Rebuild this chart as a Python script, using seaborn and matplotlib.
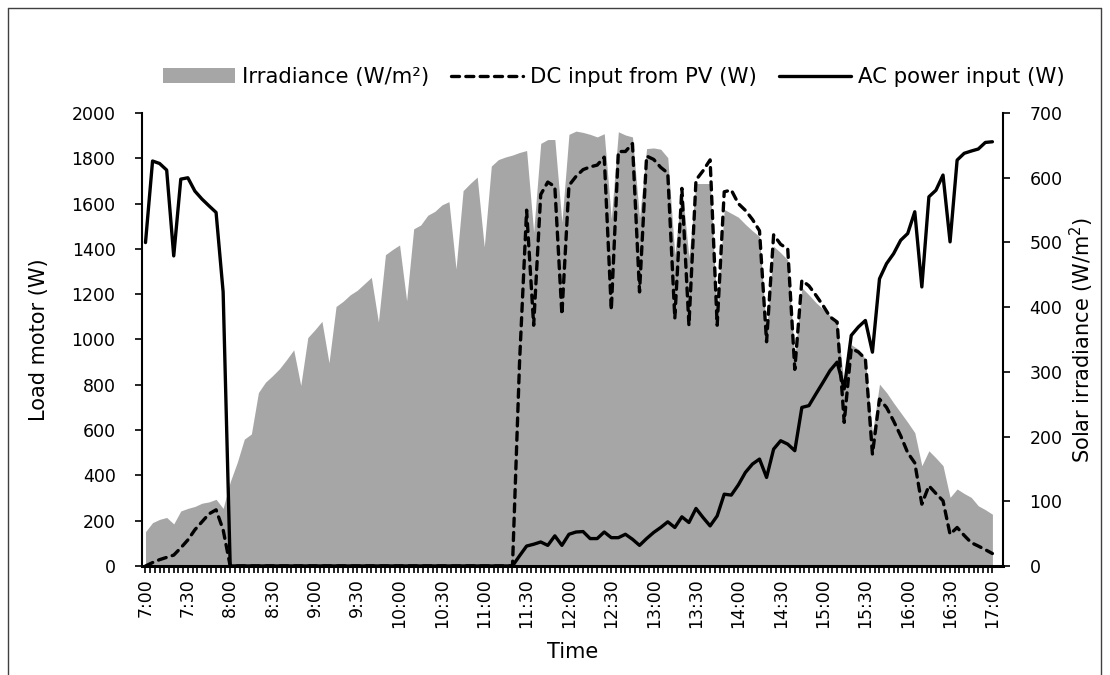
import numpy as np
import pandas as pd
import matplotlib
matplotlib.use("Agg")
import matplotlib.pyplot as plt
import seaborn as sns
from matplotlib.patches import Patch
from matplotlib.lines import Line2D

# ---------------- data (5-minute samples, 7:00 .. 17:00) ----------------
minutes = np.arange(0, 601, 5)          # minutes after 7:00

tick_minutes = [0, 30, 60, 90, 120, 150, 180, 210, 240, 270, 300,
                330, 360, 390, 420, 450, 480, 510, 540, 570, 600]
tick_labels = ["7:00", "7:30", "8:00", "8:30", "9:00", "9:30", "10:00",
               "10:30", "11:00", "11:30", "12:00", "12:30", "13:00",
               "13:30", "14:00", "14:30", "15:00", "15:30", "16:00",
               "16:30", "17:00"]

irradiance = [
    53, 67, 72, 75, 65, 85, 89, 92, 97, 99,
    103, 89, 130, 160, 196, 204, 268, 284, 294, 305,
    319, 334, 279, 353, 365, 378, 314, 401, 409, 419,
    426, 436, 446, 377, 481, 489, 496, 410, 521, 527,
    542, 548, 558, 563, 459, 580, 591, 601, 493, 618,
    628, 632, 635, 639, 642, 516, 653, 659, 659, 531,
    667, 672, 670, 667, 663, 668, 537, 671, 666, 663,
    538, 645, 646, 644, 631, 481, 587, 477, 591, 591,
    591, 393, 551, 545, 539, 528, 518, 509, 362, 494,
    484, 473, 322, 430, 419, 407, 397, 387, 377, 279,
    342, 335, 320, 205, 281, 268, 252, 237, 222, 206,
    155, 178, 167, 155, 106, 119, 112, 106, 93, 87,
    80]

dc_input = [
    0, 15, 28, 38, 48, 80, 115, 160, 195, 230,
    248, 160, 0, 0, 0, 0, 0, 0, 0, 0,
    0, 0, 0, 0, 0, 0, 0, 0, 0, 0,
    0, 0, 0, 0, 0, 0, 0, 0, 0, 0,
    0, 0, 0, 0, 0, 0, 0, 0, 0, 0,
    0, 0, 0, 900, 1571, 1063, 1640, 1695, 1675, 1110,
    1680, 1720, 1750, 1762, 1770, 1805, 1130, 1830, 1830, 1865,
    1210, 1810, 1795, 1760, 1735, 1093, 1667, 1063, 1704, 1745,
    1793, 1063, 1652, 1660, 1600, 1570, 1530, 1480, 990, 1462,
    1420, 1400, 868, 1261, 1237, 1195, 1150, 1100, 1077, 634,
    960, 945, 915, 494, 737, 700, 640, 575, 500, 455,
    273, 354, 320, 288, 140, 170, 135, 103, 88, 72,
    55]

ac_input = [
    1428, 1788, 1777, 1748, 1369, 1708, 1714, 1655, 1620, 1590,
    1561, 1210, 0, 0, 0, 0, 0, 0, 0, 0,
    0, 0, 0, 0, 0, 0, 0, 0, 0, 0,
    0, 0, 0, 0, 0, 0, 0, 0, 0, 0,
    0, 0, 0, 0, 0, 0, 0, 0, 0, 0,
    0, 0, 0, 45, 88, 96, 106, 91, 133, 91,
    140, 150, 152, 121, 121, 150, 125, 125, 140, 118,
    91, 121, 148, 170, 195, 170, 217, 192, 254, 214,
    177, 221, 317, 313, 358, 413, 450, 472, 391, 516,
    553, 538, 509, 700, 708, 760, 811, 863, 900, 782,
    1018, 1055, 1084, 944, 1268, 1335, 1379, 1438, 1468, 1564,
    1232, 1630, 1659, 1726, 1431, 1792, 1822, 1832, 1841, 1870,
    1873]

# ---------------- style ----------------
sns.set_theme(style="white")
plt.rcParams['font.family'] = ['DejaVu Sans']
for k in ['text.color', 'axes.labelcolor', 'xtick.color', 'ytick.color']:
    plt.rcParams[k] = 'black'

AREA = '#A6A6A6'
LW = 2.4
DASH = (2.4, 1.9)

df = pd.DataFrame({"minute": minutes, "dc": dc_input, "ac": ac_input,
                   "irr": irradiance})

fig = plt.figure(figsize=(11.1, 6.75), dpi=100)
ax = fig.add_axes([0.1279, 0.1615, 0.7757, 0.6711])
ax2 = ax.twinx()

# irradiance area on the secondary axis, behind the lines
ax2.fill_between(df["minute"], df["irr"], 0, color=AREA, linewidth=0)
ax2.set_ylim(0, 700)
ax.set_zorder(ax2.get_zorder() + 1)
ax.patch.set_visible(False)

sns.lineplot(data=df, x="minute", y="dc", ax=ax, color="black",
             linewidth=LW, legend=False)
sns.lineplot(data=df, x="minute", y="ac", ax=ax, color="black",
             linewidth=LW, legend=False)
dc_line = ax.lines[0]
dc_line.set_dashes(DASH)
dc_line.set_dash_capstyle('round')
for ln in ax.lines:
    ln.set_solid_joinstyle('round')
    ln.set_dash_joinstyle('round')

ax.set_xlim(-2.5, 607.5)
ax.set_ylim(0, 2000)
ax.set_yticks(range(0, 2001, 200))
ax2.set_yticks(range(0, 701, 100))
ax.set_xticks(tick_minutes)
ax.set_xticklabels(tick_labels, rotation=90, fontsize=12.5)
ax.set_xticks(np.arange(0, 601, 10 / 3), minor=True)
ax.tick_params(axis='x', which='both', direction='out', length=5,
               width=1.2, color='black', bottom=True, pad=4)
ax.tick_params(axis='y', which='major', direction='out', length=5,
               width=1.2, color='black', left=True, labelsize=12.5, pad=14)
ax2.tick_params(axis='y', which='major', direction='out', length=5,
                width=1.2, color='black', right=True, labelsize=12.5, pad=14)
ax.grid(False)
ax2.grid(False)

for s in ['top', 'right']:
    ax.spines[s].set_visible(False)
for s in ['top', 'left', 'bottom']:
    ax2.spines[s].set_visible(False)
ax.spines['left'].set_color('black')
ax.spines['left'].set_linewidth(1.5)
ax.spines['bottom'].set_color('black')
ax.spines['bottom'].set_linewidth(2.2)
ax2.spines['right'].set_color('black')
ax2.spines['right'].set_linewidth(1.5)

ax.set_xlabel("Time", fontsize=15, labelpad=10)
ax.set_ylabel("Load motor (W)", fontsize=15, labelpad=16)
ax2.set_ylabel("Solar irradiance (W/m$^{2}$)", fontsize=15, labelpad=4)

handles = [
    Patch(facecolor=AREA, edgecolor='none', label='Irradiance (W/m²)'),
    Line2D([], [], color='black', linewidth=LW, dashes=DASH,
           dash_capstyle='round', label='DC input from PV (W)'),
    Line2D([], [], color='black', linewidth=LW, label='AC power input (W)'),
]
fig.legend(handles=handles, loc='center', bbox_to_anchor=(0.553, 0.886),
           ncol=3, frameon=False, fontsize=15.3, handlelength=3.4,
           handletextpad=0.35, columnspacing=1.0)

# chart-area border
bc = '#404040'
fig.add_artist(Line2D([8 / 1110, 8 / 1110], [0, 1 - 8 / 675], color=bc,
                      lw=1, transform=fig.transFigure))
fig.add_artist(Line2D([8 / 1110, 1101 / 1110], [1 - 8 / 675, 1 - 8 / 675],
                      color=bc, lw=1, transform=fig.transFigure))
fig.add_artist(Line2D([1101 / 1110, 1101 / 1110], [0, 1 - 8 / 675],
                      color=bc, lw=1, transform=fig.transFigure))

fig.savefig("out.png", dpi=100, facecolor='white')
